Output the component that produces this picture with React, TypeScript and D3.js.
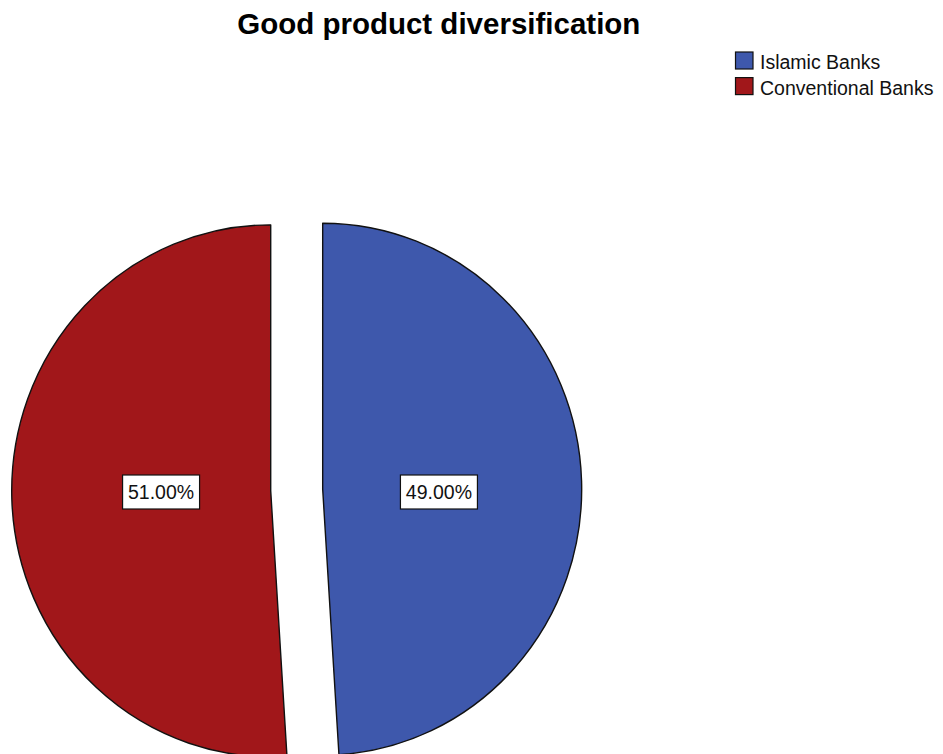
import React from "react";
import * as d3 from "d3";

const TITLE = "Good product diversification";
const categories = ["Islamic Banks", "Conventional Banks"];
const values = [49, 51];
const colors = ["#3e58ac", "#a1171a"];

const W = 943;
const H = 754;
const CX = 296.7;
const CY = 490;
const R = 259;
const SY = 1.027;
const EXPLODE = 26;
const LABEL_R = 113;
const LABEL_SHIFT = 3.3;
const FONT = "Arial, 'Liberation Sans', Helvetica, sans-serif";

export default function App() {
  const pie = d3
    .pie<number>()
    .sort(null)
    .startAngle(0)
    .endAngle(2 * Math.PI)(values);
  const arc = d3.arc<d3.PieArcDatum<number>>().innerRadius(0).outerRadius(R);
  const fmt = d3.format(".2f");
  const total = d3.sum(values);

  return (
    <svg
      width={W}
      height={H}
      style={{ position: "absolute", left: 0, top: 0, background: "#fff" }}
      fontFamily={FONT}
    >
      <rect width={W} height={H} fill="#fff" />
      <text
        x={438.8}
        y={33.5}
        textAnchor="middle"
        fontSize={29.5}
        fontWeight="bold"
        fill="#000"
      >
        {TITLE}
      </text>

      <g transform={`translate(${CX},${CY}) scale(1,${SY})`}>
        {pie.map((d, i) => {
          const mid = (d.startAngle + d.endAngle) / 2;
          const dx = Math.sin(mid) * EXPLODE;
          const dy = -Math.cos(mid) * EXPLODE;
          return (
            <path
              key={i}
              d={arc(d) || ""}
              transform={`translate(${dx},${dy})`}
              fill={colors[i]}
              stroke="#111"
              strokeWidth={1.4}
              strokeLinejoin="round"
            />
          );
        })}
      </g>

      {pie.map((d, i) => {
        const mid = (d.startAngle + d.endAngle) / 2;
        const lx = CX + LABEL_SHIFT + Math.sin(mid) * (EXPLODE + LABEL_R);
        const ly = CY + 2;
        const bw = 77;
        const bh = 34;
        return (
          <g key={i} transform={`translate(${lx},${ly})`}>
            <rect
              x={-bw / 2}
              y={-bh / 2}
              width={bw}
              height={bh}
              fill="#fff"
              stroke="#111"
              strokeWidth={1.2}
            />
            <text
              x={0}
              y={7}
              textAnchor="middle"
              fontSize={19.5}
              fill="#111"
            >
              {fmt((d.data / total) * 100)}%
            </text>
          </g>
        );
      })}

      <g transform="translate(735,52)">
        {categories.map((c, i) => (
          <g key={c} transform={`translate(0,${i * 25.6})`}>
            <rect
              x={0.5}
              y={0}
              width={17.5}
              height={17}
              fill={colors[i]}
              stroke="#111"
              strokeWidth={1.2}
            />
            <text x={25} y={17} fontSize={19.5} fill="#111">
              {c}
            </text>
          </g>
        ))}
      </g>
    </svg>
  );
}
